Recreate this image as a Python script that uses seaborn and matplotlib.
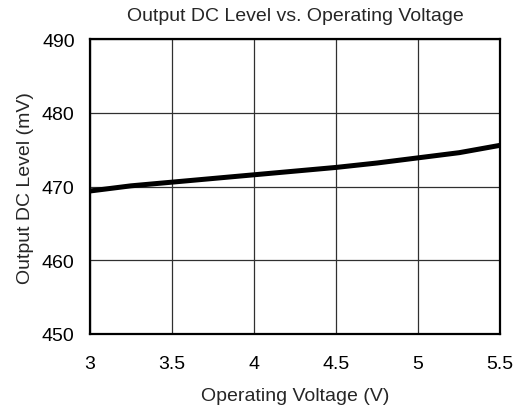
import pandas as pd
import matplotlib.pyplot as plt
import seaborn as sns

voltage = [3.0, 3.25, 3.5, 3.75, 4.0, 4.25, 4.5, 4.75, 5.0, 5.25, 5.5]
dc_level = [469.4, 470.1, 470.6, 471.1, 471.6, 472.1, 472.6, 473.2, 473.9, 474.6, 475.6]
x_ticks = [3, 3.5, 4, 4.5, 5, 5.5]
x_labels = ["3", "3.5", "4", "4.5", "5", "5.5"]
y_ticks = [450, 460, 470, 480, 490]

df = pd.DataFrame({"voltage": voltage, "dc": dc_level})

sns.set_theme(style="white")
plt.rcParams['font.family'] = ['Liberation Sans', 'DejaVu Sans']

fig = plt.figure(figsize=(5.26, 4.10), dpi=100)
ax = fig.add_axes([0.171, 0.183, 0.780, 0.719])

sns.lineplot(data=df, x="voltage", y="dc", color="black", linewidth=3.6, ax=ax)

ax.set_xlim(3, 5.5)
ax.set_ylim(450, 490)
ax.set_xticks(x_ticks)
ax.set_xticklabels(x_labels)
ax.set_yticks(y_ticks)
ax.grid(True, color="#303030", linewidth=0.9)
for s in ax.spines.values():
    s.set_color("black")
    s.set_linewidth(1.6)
ax.tick_params(axis="x", labelsize=14, colors="black", length=0, pad=15)
ax.tick_params(axis="y", labelsize=14, colors="black", length=0, pad=11)

ax.set_title("Output DC Level vs. Operating Voltage", fontsize=14, pad=14)
ax.set_xlabel("Operating Voltage (V)", fontsize=14, labelpad=11)
ax.set_ylabel("Output DC Level (mV)", fontsize=14, labelpad=6)

fig.savefig("out.png", dpi=100)
